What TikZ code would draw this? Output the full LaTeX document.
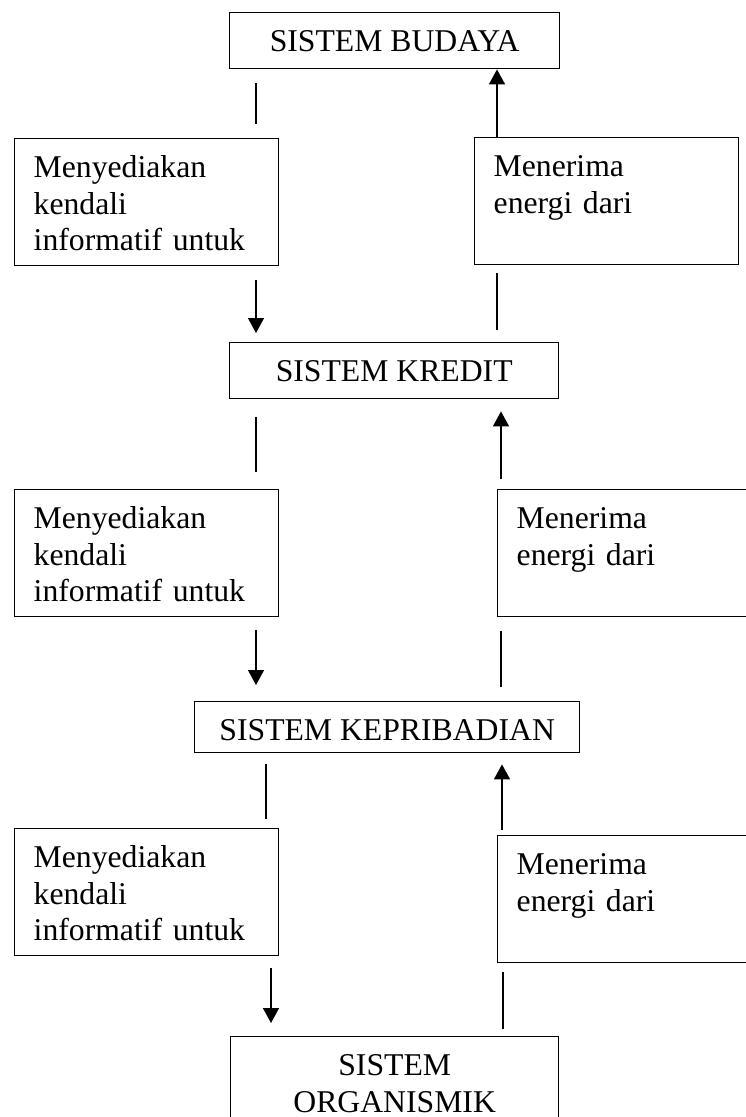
\documentclass[tikz,border=0pt]{standalone}
\usepackage{fontspec}
\setmainfont{Liberation Serif}
\usetikzlibrary{arrows.meta}

\tikzset{
  kotak/.style={draw, line width=1.4pt, inner ysep=0pt, anchor=north west,
    font=\fontsize{31.7}{36.6}\selectfont, text height=39pt},
  sistem/.style={kotak, inner xsep=0pt, align=center},
  isi/.style={kotak, inner xsep=19pt, text width=226pt, align=left, text depth=88pt},
  garis/.style={line width=1.4pt},
  panah/.style={garis, -{Triangle[width=16pt,length=15pt]}}
}

\begin{document}
\begin{tikzpicture}[x=1pt, y=-1pt]
    \useasboundingbox (0,0) rectangle (746,1117);
    % kotak sistem di tengah
    \node[sistem, minimum width=330pt, text depth=17pt] (budaya) at (229,12) {SISTEM BUDAYA};
    \node[sistem, minimum width=329pt, text depth=17pt] (kredit) at (229,342) {SISTEM KREDIT};
    \node[sistem, minimum width=385pt, text depth=12pt] (kep) at (194,701) {SISTEM KEPRIBADIAN};
    \node[sistem, text width=328pt, text depth=120pt] (organis) at (230,1036) {SISTEM\\ORGANISMIK};
    % kotak kiri dan kanan
    \def\kiri{Menyediakan\\kendali\\informatif untuk}
    \def\kanan{Menerima\\energi dari}
    \node[isi] (info1) at (14,138) {\kiri};
    \node[isi] (info2) at (14,489) {\kiri};
    \node[isi] (info3) at (14,828) {\kiri};
    \node[isi] (energi1) at (474,137) {\kanan};
    \node[isi] (energi2) at (497,489) {\kanan};
    \node[isi] (energi3) at (497,835) {\kanan};
    % garis tanpa panah: dari/ke/kolom x/jarak awal/jarak akhir
    \foreach \dari/\ke/\kol/\sa/\sb in {
        budaya.south/info1.north/256/14/14,
        kredit.south/info2.north/256/18/17,
        kep.south/info3.north/266/11/9,
        energi1.south/kredit.north/497/8/12,
        energi2.south/kep.north/501/14/14,
        energi3.south/organis.north/503/9/7}
        \draw[garis, shorten <=\sa pt, shorten >=\sb pt] (\dari -| \kol,0) -- (\ke -| \kol,0);
    % garis dengan panah
    \foreach \dari/\ke/\kol/\sa/\sb in {
        info1.south/kredit.north/256/14/9,
        info2.south/kep.north/256/13/16,
        info3.south/organis.north/271/12/13,
        energi1.north/budaya.south/497/0/0,
        energi2.north/kredit.south/501/10/12,
        energi3.north/kep.south/502/5/11}
        \draw[panah, shorten <=\sa pt, shorten >=\sb pt] (\dari -| \kol,0) -- (\ke -| \kol,0);
\end{tikzpicture}
\end{document}
